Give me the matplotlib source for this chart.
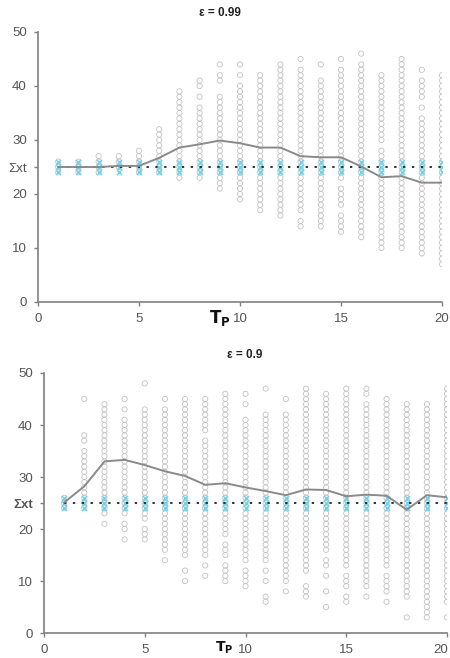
import matplotlib
matplotlib.use("Agg")
import matplotlib.pyplot as plt
import matplotlib.transforms as mtransforms

plt.rcParams['font.family'] = ['Liberation Sans', 'DejaVu Sans']

tp = list(range(1, 21))

runs_099 = [
    [(24, 26)], [(24, 26)], [(24, 27)], [(25, 27)], [(24, 28)],
    [(24, 32)], [(23, 39)], [(23, 36), (38, 38), (40, 41)],
    [(21, 38), (41, 42), (44, 44)], [(19, 40), (42, 42), (44, 44)],
    [(17, 42)], [(16, 44)], [(14, 15), (17, 43), (45, 45)],
    [(14, 41), (44, 44)], [(13, 16), (18, 21), (23, 43), (45, 45)],
    [(12, 44), (46, 46)], [(10, 28), (30, 42)], [(10, 45)],
    [(9, 34), (36, 36), (38, 41), (43, 43)], [(7, 42)],
]
mean_099 = [25, 25, 25, 25.2, 25.2, 26.7, 28.6, 29.2, 29.9, 29.4,
            28.6, 28.6, 27.0, 26.8, 26.8, 25.1, 23.1, 23.3, 22.1, 22.1]

runs_09 = [
    [(24, 26)], [(24, 35), (37, 38), (45, 45)], [(21, 21), (23, 44)],
    [(18, 18), (20, 21), (23, 41), (43, 43), (45, 45)],
    [(18, 20), (22, 43), (48, 48)], [(14, 14), (16, 43), (45, 45)],
    [(10, 10), (12, 12), (15, 45)], [(11, 11), (13, 13), (15, 37), (39, 45)],
    [(10, 13), (15, 17), (19, 46)], [(9, 12), (14, 41), (44, 44), (46, 46)],
    [(6, 7), (10, 10), (12, 12), (14, 42), (47, 47)], [(8, 8), (10, 42), (45, 45)],
    [(7, 9), (12, 47)], [(5, 5), (8, 8), (11, 11), (13, 14), (16, 46)],
    [(6, 7), (9, 11), (13, 47)], [(7, 7), (9, 44), (46, 47)],
    [(6, 6), (8, 11), (13, 45)], [(3, 3), (7, 44)], [(3, 5), (6, 44)],
    [(3, 3), (6, 47)],
]
mean_09 = [25.1, 28.2, 33.0, 33.3, 32.3, 31.1, 30.2, 28.5, 28.8, 28.0,
           27.3, 26.5, 27.6, 27.5, 26.3, 26.6, 26.4, 23.7, 26.5, 26.1]

target = 25
cyan_vals = [24, 25, 26]
yticks = [0, 10, 20, 30, 40, 50]
xticks = [0, 5, 10, 15, 20]

fig = plt.figure(figsize=(4.5, 6.58), dpi=100)

def draw(ax, runs, mean, sxt_size, sxt_weight):
    xs, ys = [], []
    for t, rr in zip(tp, runs):
        for lo, hi in rr:
            for v in range(lo, hi + 1):
                xs.append(t); ys.append(v)
    ax.scatter(xs, ys, s=14, facecolors='none', edgecolors='#c2c2c2',
               linewidths=0.6, zorder=2)
    cx = [t for t in tp for _ in cyan_vals]
    cy = [v for _ in tp for v in cyan_vals]
    ax.scatter(cx, cy, s=14, marker='x', color='#6fd3ec', linewidths=1.0, zorder=3)
    ax.plot([tp[0], tp[-1]], [target, target], color='#222222', lw=1.3,
            dashes=(1.3, 3.6), zorder=4)
    ax.plot(tp, mean, color='#8a8a8a', lw=1.4, zorder=5)
    ax.set_xlim(0, 20)
    ax.set_ylim(0, 50)
    ax.set_xticks(xticks)
    ticks = sorted(yticks + [target])
    ax.set_yticks(ticks)
    ax.set_yticklabels([str(t) if t != target else 'Σxt' for t in ticks])
    for lab in ax.get_yticklabels():
        if lab.get_text() == 'Σxt':
            lab.set_fontsize(sxt_size)
            lab.set_fontweight(sxt_weight)
            lab.set_color('#333333')
    for s in ['top', 'right']:
        ax.spines[s].set_visible(False)
    for s in ['left', 'bottom']:
        ax.spines[s].set_color('#808080')
        ax.spines[s].set_linewidth(1.2)
    ax.tick_params(axis='both', direction='out', length=3, width=1,
                   color='#808080', labelcolor='#555555', labelsize=9.5, pad=5)
    ax.set_facecolor('none')

ax1 = fig.add_axes([38/450, 1 - 302/658, (442 - 38)/450, (302 - 32)/658])
draw(ax1, runs_099, mean_099, 6, 'normal')
fig.text(220/450, 1 - 13/658, 'ε = 0.99', ha='center', va='center',
         fontsize=8.5, fontweight='bold', color='#222222')
fig.text(220/450, 1 - 318/658, r'$\mathbf{T_P}$', ha='center', va='center',
         fontsize=12, color='#111111')

ax2 = fig.add_axes([44/450, 1 - 633/658, (447 - 44)/450, (633 - 373)/658])
draw(ax2, runs_09, mean_09, 9, 'bold')
fig.text(245/450, 1 - 355/658, 'ε = 0.9', ha='center', va='center',
         fontsize=8.5, fontweight='bold', color='#222222')
fig.text(224/450, 1 - 648/658, r'$\mathbf{T_P}$', ha='center', va='center',
         fontsize=10, color='#111111')

# keep the last bottom tick label inside the figure
last = ax2.get_xticklabels()[-1]
last.set_transform(last.get_transform() +
                   mtransforms.ScaledTranslation(-6/100, 0, fig.dpi_scale_trans))

fig.savefig('out.png', dpi=100)
